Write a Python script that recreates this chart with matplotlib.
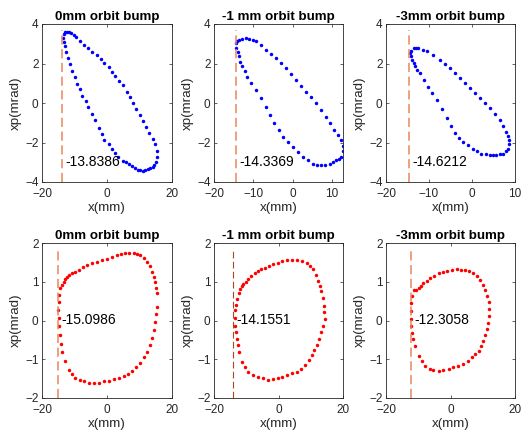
import numpy as np
import matplotlib.pyplot as plt

plt.rcParams['font.family'] = ['Liberation Sans', 'DejaVu Sans']

titles = ['0mm orbit bump', '-1 mm orbit bump', '-3mm orbit bump']

# top row: x', x phase space, blue
tl_x = [-13.6, -13.3, -12.8, -12.2, -11.6, -11.0, -10.3, -9.5, -8.2, -7.0, -5.8, -4.6, -3.2, -2.0,
        -0.8, 0.5, 1.6, 2.6, 3.8, 5.0, 6.0, 7.0, 8.0, 9.0, 10.0, 11.0, 12.0, 13.0, 14.0, 14.8,
        15.3, 15.5, 15.1, 14.6, 14.0, 13.2, 12.5, 11.8, 11.0, 10.2, 9.4, 8.6, 7.8, 6.8, 5.8,
        4.8, 3.5, 2.6, 1.5, 0.5, -0.8, -1.6, -2.6, -3.6, -4.6, -5.8, -6.6, -7.6, -8.4, -9.3,
        -10.0, -10.8, -11.5, -12.0, -12.6, -13.0, -13.3]
tl_y = [3.3, 3.5, 3.6, 3.62, 3.6, 3.55, 3.45, 3.35, 3.15, 2.95, 2.8, 2.6, 2.45, 2.25,
        2.05, 1.8, 1.55, 1.35, 1.1, 0.9, 0.55, 0.3, 0.0, -0.3, -0.6, -0.9, -1.2, -1.5, -1.8, -2.1,
        -2.45, -2.75, -3.0, -3.15, -3.25, -3.3, -3.35, -3.4, -3.45, -3.4, -3.38, -3.3, -3.2, -3.1, -3.0,
        -2.95, -2.75, -2.55, -2.35, -2.1, -1.85, -1.55, -1.25, -0.85, -0.55, -0.2, 0.1, 0.35, 0.7, 0.95,
        1.3, 1.6, 1.95, 2.3, 2.6, 2.9, 3.1]

tm_x = [-14.5, -14.2, -13.6, -12.9, -11.9, -11.0, -10.2, -9.4, -8.1, -6.8, -5.6, -4.3, -3.0, -1.7,
        -0.4, 0.85, 2.1, 3.4, 4.7, 6.0, 7.2, 8.5, 9.6, 10.6, 11.5, 12.3, 12.8, 12.7, 12.3, 11.8,
        11.1, 10.2, 9.4, 8.3, 7.2, 6.1, 5.1, 3.8, 2.55, 1.3, 0.0, -1.3, -2.55, -3.6, -4.7, -5.8,
        -6.8, -8.1, -9.4, -10.5, -11.5, -12.2, -12.8, -13.3, -13.6, -14.0, -14.3]
tm_y = [3.03, 3.15, 3.2, 3.25, 3.29, 3.25, 3.2, 3.12, 2.92, 2.69, 2.48, 2.27, 2.02, 1.76,
        1.46, 1.17, 0.88, 0.58, 0.29, 0.0, -0.35, -0.69, -1.03, -1.37, -1.62, -1.88, -2.2, -2.45, -2.73, -2.82,
        -2.9, -3.0, -3.07, -3.12, -3.15, -3.12, -3.07, -2.9, -2.73, -2.48, -2.22, -1.97, -1.71, -1.37, -1.03, -0.6,
        -0.19, 0.24, 0.66, 1.0, 1.34, 1.6, 1.85, 2.1, 2.36, 2.57, 2.78]

tr_x = [-14.4, -14.2, -13.6, -13.0, -12.5, -11.5, -10.5, -9.0, -7.5, -6.3, -5.2, -4.0, -2.8, -1.6,
        -0.5, 0.7, 1.8, 3.0, 4.1, 5.3, 6.4, 7.2, 7.9, 8.4, 8.7, 8.6, 8.3, 7.8, 7.2, 6.4,
        5.6, 4.8, 4.1, 3.2, 2.2, 1.2, 0.2, -1.0, -2.1, -3.0, -4.0, -5.0, -5.9, -7.0, -8.2, -9.2,
        -10.2, -11.2, -12.1, -12.7, -13.2, -13.6, -14.0, -14.3]
tr_y = [2.53, 2.65, 2.78, 2.8, 2.78, 2.7, 2.61, 2.44, 2.19, 1.98, 1.76, 1.5, 1.25, 1.0,
        0.75, 0.5, 0.24, -0.02, -0.27, -0.55, -0.86, -1.15, -1.46, -1.68, -1.88, -2.1, -2.31, -2.45, -2.56, -2.6,
        -2.64, -2.65, -2.64, -2.6, -2.56, -2.45, -2.31, -2.14, -1.97, -1.76, -1.54, -1.15, -0.78, -0.3, 0.15, 0.5,
        0.83, 1.17, 1.51, 1.68, 1.85, 2.02, 2.19, 2.36]

# bottom row: y', y phase space, red
bl_x = [-14.4, -14.7, -14.9, -15.0, -14.9, -14.8, -14.6, -14.2, -13.8, -12.8, -11.8, -10.8, -9.7, -8.4,
        -7.2, -5.6, -4.1, -2.5, -1.0, 0.5, 2.05, 3.6, 5.1, 6.4, 7.7, 9.0, 10.3, 11.4, 12.3, 13.1,
        13.8, 14.4, 14.9, 15.2, 15.4, 15.4, 15.2, 14.9, 14.4, 13.8, 13.1, 12.3, 11.3, 10.3, 9.2,
        8.2, 6.9, 5.6, 4.3, 3.1, 1.5, 0.0, -1.5, -3.1, -4.6, -6.2, -7.5, -8.7, -9.8, -10.8,
        -11.6, -12.3, -12.9, -13.3, -13.9]
bl_y = [0.83, 0.65, 0.49, 0.27, 0.06, -0.15, -0.37, -0.6, -0.8, -1.05, -1.27, -1.38, -1.48, -1.53,
        -1.57, -1.6, -1.61, -1.6, -1.57, -1.55, -1.52, -1.48, -1.44, -1.38, -1.31, -1.21, -1.1, -0.95, -0.8, -0.62,
        -0.45, -0.24, -0.03, 0.17, 0.36, 0.7, 0.85, 1.0, 1.13, 1.26, 1.4, 1.52, 1.61, 1.69, 1.72,
        1.75, 1.74, 1.73, 1.71, 1.69, 1.65, 1.6, 1.56, 1.52, 1.48, 1.43, 1.37, 1.3, 1.26, 1.22,
        1.18, 1.13, 1.07, 1.0, 0.92]

bm_x = [-12.9, -13.2, -13.4, -13.5, -13.4, -13.2, -12.9, -12.6, -12.4, -11.4, -10.4, -9.4, -7.9, -6.4,
        -4.9, -3.3, -1.8, -0.3, 1.2, 2.7, 4.2, 5.8, 7.1, 8.3, 9.4, 10.3, 11.1, 11.8, 12.6, 13.3,
        13.9, 14.3, 14.2, 14.0, 13.7, 13.3, 12.8, 12.3, 11.6, 10.8, 9.8, 8.8, 7.3, 5.8, 4.2,
        2.7, 1.2, -0.3, -1.6, -2.8, -4.1, -5.4, -6.4, -7.4, -8.4, -9.4, -10.2, -10.9, -11.4, -11.9,
        -12.4]
bm_y = [0.55, 0.4, 0.26, 0.06, -0.13, -0.3, -0.47, -0.64, -0.81, -1.06, -1.2, -1.32, -1.4, -1.45,
        -1.49, -1.53, -1.52, -1.49, -1.45, -1.4, -1.36, -1.32, -1.24, -1.15, -1.03, -0.89, -0.77, -0.64, -0.47, -0.3,
        -0.13, 0.04, 0.21, 0.38, 0.58, 0.77, 0.9, 1.02, 1.17, 1.32, 1.41, 1.49, 1.53, 1.57, 1.57,
        1.57, 1.53, 1.49, 1.45, 1.4, 1.36, 1.32, 1.27, 1.23, 1.15, 1.06, 1.0, 0.94, 0.88, 0.81,
        0.7]

br_x = [-11.4, -11.9, -12.3, -12.4, -12.3, -12.2, -12.0, -11.5, -10.9, -9.9, -8.9, -7.8, -6.5, -5.3,
        -3.7, -2.2, -0.6, 0.9, 2.4, 4.0, 5.3, 6.6, 7.7, 8.7, 9.5, 10.2, 10.8, 11.2, 11.7, 12.0,
        12.0, 11.8, 11.4, 10.7, 10.0, 9.2, 8.2, 7.1, 5.8, 4.5, 3.2, 2.0, 0.5, -1.1, -2.4,
        -3.7, -5.0, -6.3, -7.4, -8.4, -9.2, -9.9, -10.6]
br_y = [0.79, 0.62, 0.45, 0.24, 0.03, -0.14, -0.31, -0.48, -0.66, -0.91, -1.05, -1.17, -1.24, -1.29,
        -1.31, -1.29, -1.25, -1.21, -1.17, -1.12, -1.04, -0.95, -0.87, -0.78, -0.66, -0.53, -0.38, -0.23, -0.06, 0.11,
        0.3, 0.49, 0.64, 0.79, 0.92, 1.05, 1.14, 1.22, 1.27, 1.3, 1.31, 1.32, 1.31, 1.29, 1.26,
        1.22, 1.16, 1.09, 1.02, 0.96, 0.9, 0.83, 0.79]

xs = [[tl_x, tm_x, tr_x], [bl_x, bm_x, br_x]]
ys = [[tl_y, tm_y, tr_y], [bl_y, bm_y, br_y]]
edges = [[-13.8386, -14.3369, -14.6212], [-15.0986, -14.1551, -12.3058]]

xlims = [[(-20, 20), (-20, 12.8), (-20, 10)], [(-20, 20), (-20, 20), (-20, 20)]]
xticks = [[[-20, 0, 20], [-20, -10, 0, 10], [-20, -10, 0, 10]],
          [[-20, 0, 20], [-20, 0, 20], [-20, 0, 20]]]
ylims = [(-4, 4), (-2, 2)]
yticks = [[-4, -2, 0, 2, 4], [-2, -1, 0, 1, 2]]
dot_colors = ['#0000FF', '#FF0000']
label_y = [-3.0, 0.0]
line_top = [3.7, 1.86]

W, H = 521, 438
lefts = [42, 214, 386]
widths = [130, 129, 129]
tops = [24, 243]
heights = [158, 155]

fig = plt.figure(figsize=(W / 100, H / 100), dpi=100)
grey = '#262626'

for r in range(2):
    for c in range(3):
        ax = fig.add_axes([lefts[c] / W, 1 - (tops[r] + heights[r]) / H, widths[c] / W, heights[r] / H])
        ax.plot(xs[r][c], ys[r][c], '.', color=dot_colors[r], ms=5, mew=0)
        lc = '#A9471F' if (r == 1 and c == 1) else '#E8875C'
        lw = 0.8 if (r == 1 and c == 1) else 1.1
        ax.plot([edges[r][c], edges[r][c]], [ylims[r][0], line_top[r]], '--', color=lc, lw=lw, dashes=(6, 3))
        ax.annotate('%.4f' % edges[r][c], (edges[r][c], label_y[r]), xytext=(2.5, 0),
                    textcoords='offset points', va='center', ha='left', fontsize=10, color='k')
        ax.set_xlim(*xlims[r][c])
        ax.set_ylim(*ylims[r])
        ax.set_xticks(xticks[r][c])
        ax.set_yticks(yticks[r])
        ax.tick_params(direction='in', length=2.5, width=0.5, colors=grey, labelsize=8.5,
                       top=True, right=True)
        ax.tick_params(axis='x', pad=4.5)
        ax.tick_params(axis='y', pad=2.5)
        for s in ax.spines.values():
            s.set_linewidth(0.6)
            s.set_color(grey)
        ax.set_xlabel('x(mm)', fontsize=9.6, color=grey, labelpad=1)
        ax.set_ylabel('xp(mrad)', fontsize=9.6, color=grey, labelpad=2)
        ax.set_title(titles[c], fontsize=9.6, fontweight='bold', pad=3)

fig.savefig('out.png', dpi=100)
